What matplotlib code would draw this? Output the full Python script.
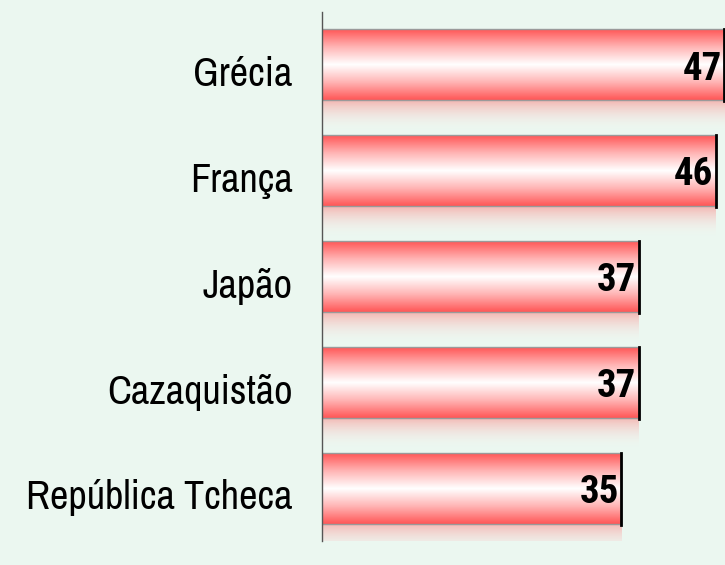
import numpy as np
import matplotlib.pyplot as plt
from matplotlib.colors import LinearSegmentedColormap

# dados
paises = ['Grécia', 'França', 'Japão', 'Cazaquistão', 'República Tcheca']
valores = [47, 46, 37, 37, 35]

fonte_rotulo = ['Archivo Narrow', 'Liberation Sans']
fonte_valor = ['Roboto Condensed', 'Liberation Sans']

bg = '#ebf7f0'
fig = plt.figure(figsize=(7.25, 5.65), dpi=100, facecolor=bg)
ax = fig.add_axes([322 / 725, 24 / 565, 403 / 725, 529 / 565])
ax.set_facecolor(bg)

ax.set_xlim(0, 47.1)
ax.set_ylim(len(paises) - 0.5, -0.5)

cmap = LinearSegmentedColormap.from_list('barra', ['#ff5656', '#ffb4b4', '#ffffff', '#ffb4b4', '#ff5656'])
grad = np.linspace(0, 1, 256).reshape(-1, 1)
h = 0.67

for i, v in enumerate(valores):
    top = i - h / 2
    bot = i + h / 2
    ax.imshow(grad, cmap=cmap, aspect='auto', extent=(-0.2, v, bot, top), zorder=2,
              interpolation='bilinear')
    ax.plot([-0.2, v, v, -0.2, -0.2], [top, top, bot, bot, top], color='#9a9a9a', lw=1, zorder=3)
    ax.plot([v, v], [top, bot + 0.01], color='black', lw=2, zorder=4)
    # reflexo
    refl = np.zeros((64, 1, 4))
    refl[..., 0] = 1.0
    refl[..., 1] = np.linspace(0.4, 1, 64).reshape(-1, 1)
    refl[..., 2] = np.linspace(0.4, 1, 64).reshape(-1, 1)
    refl[..., 3] = np.linspace(0.45, 0.0, 64).reshape(-1, 1)
    ax.imshow(refl, aspect='auto', extent=(-0.2, v, bot + 0.3, bot), zorder=1,
              interpolation='bilinear')
    ax.text(v - 0.3, i + 0.04, str(v), ha='right', va='center', fontsize=28,
            fontweight='bold', family=fonte_valor, zorder=5)
    ax.annotate(paises[i], xy=(0, i), xycoords='data', xytext=(-21, -7),
                textcoords='offset points', ha='right', va='center', fontsize=29,
                family=fonte_rotulo)

ax.set_xticks([])
ax.set_yticks([])
for s in ['top', 'right', 'bottom']:
    ax.spines[s].set_visible(False)
ax.spines['left'].set_color('#555555')
ax.spines['left'].set_linewidth(1)
ax.spines['left'].set_zorder(6)

fig.savefig('out.png', dpi=100, facecolor=bg)
